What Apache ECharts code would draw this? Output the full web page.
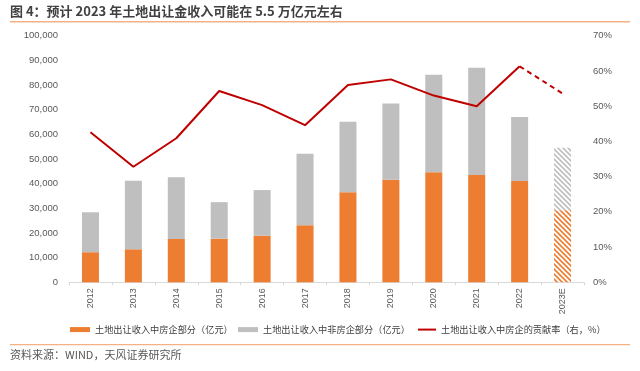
<!DOCTYPE html>
<html><head><meta charset="utf-8">
<script src="https://cdn.jsdelivr.net/npm/echarts@6/dist/echarts.min.js"></script>
<style>html,body{margin:0;padding:0;background:#fff}#c{width:640px;height:371px}</style>
</head><body><div id="c"></div>
<script>
var categories = ['2012','2013','2014','2015','2016','2017','2018','2019','2020','2021','2022','2023E'];
var developerPart = [12200,13400,17600,17700,18900,23100,36500,41600,44600,43500,41100,29200];
var nonDeveloperPart = [16200,27800,25000,14800,18500,29000,28600,30900,39600,43500,25900,25400];
var contributionRate = [42.6,32.8,40.9,54.3,50.3,44.6,56.0,57.6,53.0,50.0,61.3,53.6];
var leftTicks = [0,10000,20000,30000,40000,50000,60000,70000,80000,90000,100000];
var rightTicks = [0,10,20,30,40,50,60,70];
var seriesNames = ['土地出让收入中房企部分（亿元）','土地出让收入中非房企部分（亿元）','土地出让收入中房企的贡献率（右，%）'];

function stripe(color){
  var s = 5, cv = document.createElement('canvas');
  cv.width = s; cv.height = s;
  var ctx = cv.getContext('2d');
  ctx.fillStyle = '#fff'; ctx.fillRect(0,0,s,s);
  ctx.strokeStyle = color; ctx.lineWidth = 1.6;
  ctx.beginPath();
  ctx.moveTo(-1,-1); ctx.lineTo(s+1,s+1);
  ctx.moveTo(-2,s-2); ctx.lineTo(2,s+2);
  ctx.moveTo(s-2,-2); ctx.lineTo(s+2,2);
  ctx.stroke();
  return {image: cv, repeat: 'repeat'};
}
var last = categories.length - 1;
var orangeData = developerPart.map(function(v,i){
  return i === last ? {value: v, itemStyle: {color: stripe('#ED7D31')}} : v;
});
var grayData = nonDeveloperPart.map(function(v,i){
  return i === last ? {value: v, itemStyle: {color: stripe('#BFBFBF')}} : v;
});
var solidLine = contributionRate.map(function(v,i){ return i === last ? null : v; });
var dashLine = contributionRate.map(function(v,i){ return i >= last-1 ? v : null; });

var chart = echarts.init(document.getElementById('c'));
var font = 'Liberation Sans, Noto Sans CJK SC, sans-serif';
var legendText = {fontSize: 9.2, color: '#404040', fontFamily: 'Noto Sans CJK SC'};
chart.setOption({
  animation: false,
  textStyle: {fontFamily: font},
  grid: {left: 69, right: 56, top: 35.7, bottom: 88.7},
  legend: [
    {left: 65, top: 320, itemWidth: 20, itemHeight: 5, icon: 'rect', textStyle: legendText,
     data: [seriesNames[0]]},
    {left: 233, top: 320, itemWidth: 20, itemHeight: 5, icon: 'rect', textStyle: legendText,
     data: [seriesNames[1]]},
    {left: 413, top: 320, itemWidth: 18, itemHeight: 2, icon: 'rect', textStyle: legendText,
     data: [seriesNames[2]]}
  ],
  xAxis: {
    type: 'category', data: categories,
    axisLine: {lineStyle: {color: '#D9D9D9'}},
    axisTick: {show: true, length: 3, lineStyle: {color: '#D9D9D9'}},
    axisLabel: {rotate: 90, fontSize: 9, color: '#595959', margin: 6}
  },
  yAxis: [
    {type: 'value', min: 0, max: 100000, interval: 10000,
     splitLine: {show: false}, axisLine: {show: false}, axisTick: {show: false},
     axisLabel: {fontSize: 9.5, color: '#595959', margin: 11,
       formatter: function(v){ return v.toLocaleString('en-US'); }}},
    {type: 'value', min: 0, max: 70, interval: 10, position: 'right',
     splitLine: {show: false}, axisLine: {show: false}, axisTick: {show: false},
     axisLabel: {fontSize: 9.5, color: '#595959', margin: 9, formatter: '{value}%'}}
  ],
  series: [
    {name: seriesNames[0], type: 'bar', stack: 'a', barWidth: 17,
     itemStyle: {color: '#ED7D31'}, data: orangeData},
    {name: seriesNames[1], type: 'bar', stack: 'a', barWidth: 17,
     itemStyle: {color: '#BFBFBF'}, data: grayData},
    {name: seriesNames[2], type: 'line', yAxisIndex: 1,
     symbol: 'none', lineStyle: {color: '#C00000', width: 2}, itemStyle: {color: '#C00000'},
     data: solidLine},
    {name: 'dash', type: 'line', yAxisIndex: 1, symbol: 'none',
     lineStyle: {color: '#C00000', width: 2, type: [5,4]}, data: dashLine}
  ],
  graphic: [
    {type: 'text', left: 10, top: 5, style: {text: '图 4：预计 2023 年土地出让金收入可能在 5.5 万亿元左右',
      font: 'bold 13px "Noto Sans CJK SC"', fill: '#404040'}},
    {type: 'rect', shape: {x: 10, y: 21, width: 620, height: 1.5}, style: {fill: '#F4B183'}},
    {type: 'rect', shape: {x: 10, y: 344, width: 620, height: 1.2}, style: {fill: '#F4B183'}},
    {type: 'text', left: 10, top: 349, style: {text: '资料来源：WIND，天风证券研究所',
      font: '11px "Noto Sans CJK SC"', fill: '#595959'}}
  ]
});
</script></body></html>
